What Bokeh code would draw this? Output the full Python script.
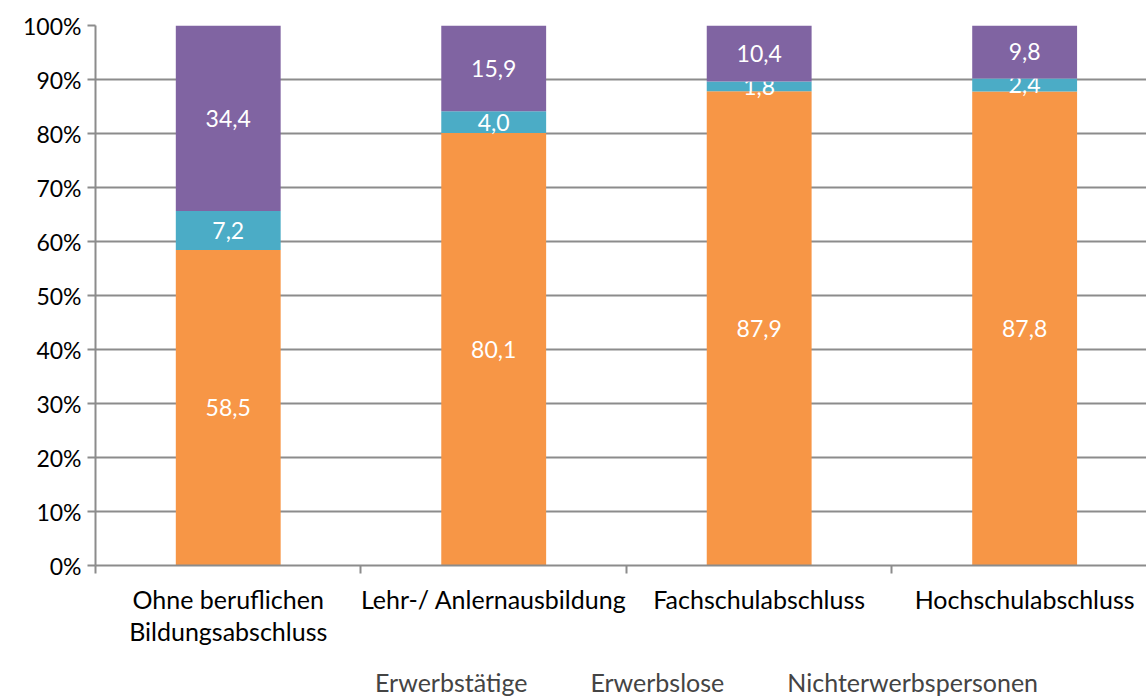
from bokeh.plotting import figure
from bokeh.layouts import column
from bokeh.models import (Range1d, FixedTicker, NumeralTickFormatter, ColumnDataSource,
                          Legend, LegendItem, LinearAxis)
from bokeh.core.properties import value
from bokeh.embed import file_html
from bokeh.resources import INLINE

categories = ["Ohne beruflichen\nBildungsabschluss", "Lehr-/ Anlernausbildung",
              "Fachschulabschluss", "Hochschulabschluss"]
series_names = ["Erwerbstätige", "Erwerbslose", "Nichterwerbspersonen"]
erwerbstaetige = [58.5, 80.1, 87.9, 87.8]
erwerbslose = [7.2, 4.0, 1.8, 2.4]
nichterwerb = [34.4, 15.9, 10.4, 9.8]
y_ticks = [0, 0.1, 0.2, 0.3, 0.4, 0.5, 0.6, 0.7, 0.8, 0.9, 1.0]

colors = ["#F79646", "#4BACC6", "#8064A2"]
FONT = "Lato"
FS = "23px"
FS_CAT = "25px"

xc = [i + 0.5 for i in range(len(categories))]
totals = [a + b + c for a, b, c in zip(erwerbstaetige, erwerbslose, nichterwerb)]
series = [erwerbstaetige, erwerbslose, nichterwerb]

p = figure(frame_width=1051, frame_height=540, output_backend="svg", toolbar_location=None,
           x_range=Range1d(0, 3.959), y_range=Range1d(0, 1),
           min_border_left=95, min_border_top=25, min_border_bottom=97, min_border_right=0,
           x_axis_location=None, y_axis_location=None)
p.outline_line_color = None
p.background_fill_color = "white"
p.border_fill_color = "white"

bottoms = [0.0] * 4
for s, col in zip(series, colors):
    frac = [v / t for v, t in zip(s, totals)]
    tops = [b + f for b, f in zip(bottoms, frac)]
    src = ColumnDataSource(dict(x=xc, bottom=bottoms, top=tops,
                                mid=[(b + t) / 2 for b, t in zip(bottoms, tops)],
                                lab=[f"{v:.1f}".replace(".", ",") for v in s]))
    p.vbar(x="x", bottom="bottom", top="top", width=0.395, source=src,
           fill_color=col, line_color=None)
    p.text(x="x", y="mid", text="lab", source=src, text_color="white",
           text_align="center", text_baseline="middle",
           text_font=value(FONT), text_font_size=FS)
    bottoms = tops

# y axis
yax = LinearAxis(ticker=FixedTicker(ticks=y_ticks),
                 formatter=NumeralTickFormatter(format="0%"))
yax.axis_line_color = "#8C8C8C"
yax.axis_line_width = 2
yax.major_tick_line_color = "#8C8C8C"
yax.major_tick_line_width = 2
yax.major_tick_out = 8
yax.major_tick_in = 0
yax.minor_tick_line_color = None
yax.major_label_text_font = FONT
yax.major_label_text_font_size = FS
yax.major_label_text_color = "black"
yax.major_label_standoff = 6
p.add_layout(yax, "left")

# x axis: labels at category centres, ticks at category boundaries
xax = LinearAxis(ticker=FixedTicker(ticks=xc, minor_ticks=[0, 1, 2, 3, 4]))
xax.major_label_overrides = {x: c for x, c in zip(xc, categories)}
xax.axis_line_color = "#8C8C8C"
xax.axis_line_width = 2
xax.major_tick_line_color = None
xax.major_tick_out = 0
xax.major_tick_in = 0
xax.minor_tick_line_color = "#8C8C8C"
xax.minor_tick_line_width = 2
xax.minor_tick_out = 8
xax.minor_tick_in = 0
xax.major_label_text_font = FONT
xax.major_label_text_font_size = FS_CAT
xax.major_label_text_color = "black"
xax.major_label_text_line_height = 1.07
xax.major_label_standoff = 10
p.add_layout(xax, "below")

p.xgrid.visible = False
p.ygrid.ticker = FixedTicker(ticks=y_ticks)
p.ygrid.grid_line_color = "#8C8C8C"
p.ygrid.grid_line_width = 2

# legend strip: a second small figure holding only the legend
pl = figure(width=1146, height=35, output_backend="svg", toolbar_location=None,
            x_range=Range1d(0, 1), y_range=Range1d(0, 1),
            min_border=0, x_axis_location=None, y_axis_location=None)
pl.outline_line_color = None
pl.xgrid.visible = False
pl.ygrid.visible = False
pl.background_fill_color = "white"
pl.border_fill_color = "white"
leg_renderers = [pl.vbar(x=[], top=[], width=0.1, fill_color=c, line_color=None) for c in colors]

legend = Legend(items=[LegendItem(label=n, renderers=[r]) for n, r in zip(series_names, leg_renderers)],
                location=(258, 0), orientation="horizontal")
legend.glyph_width = 14
legend.glyph_height = 14
legend.label_text_font = FONT
legend.label_text_font_size = FS_CAT
legend.label_standoff = 8
legend.spacing = 41
legend.padding = 0
legend.margin = 0
legend.border_line_color = None
legend.background_fill_alpha = 0
pl.add_layout(legend, "center")

layout = column(p, pl, spacing=0)
open("out.html", "w").write(file_html(layout, INLINE))
